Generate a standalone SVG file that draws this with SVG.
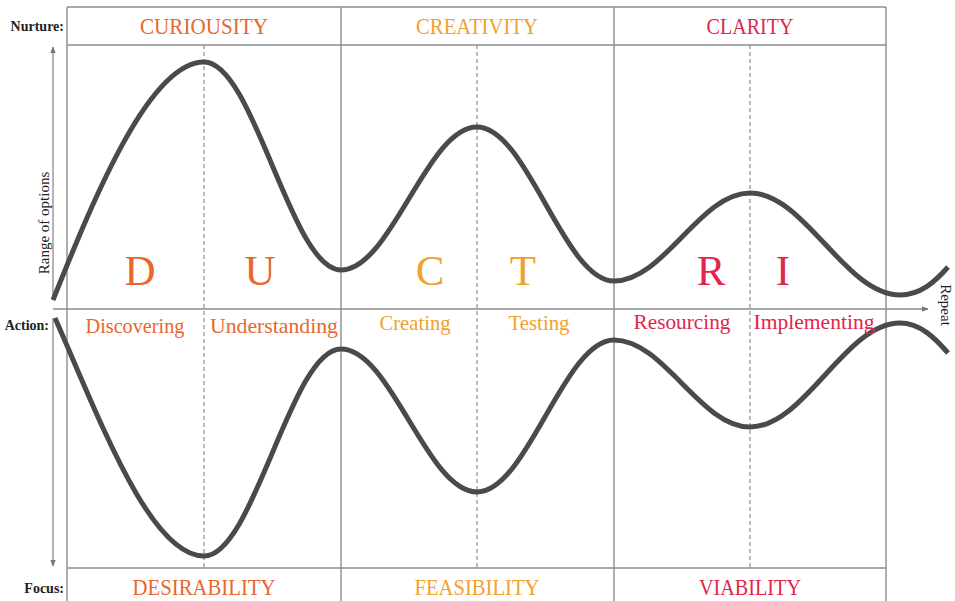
<svg xmlns="http://www.w3.org/2000/svg" width="955" height="601" viewBox="0 0 955 601">
  <defs>
    <marker id="arrow" viewBox="0 0 10 10" refX="9" refY="5" markerWidth="7" markerHeight="7" orient="auto-start-reverse" markerUnits="userSpaceOnUse">
      <path d="M0,1 L10,5 L0,9 z" fill="#777"/>
    </marker>
    <style>
      .grid { stroke: #8c8c8c; stroke-width: 1.4; fill: none; }
      .dash { stroke: #8c8c8c; stroke-width: 1.2; stroke-dasharray: 4 3; fill: none; }
      .axis { stroke: #8c8c8c; stroke-width: 1.3; fill: none; }
      .wave { stroke: #4a4a4a; stroke-width: 5; fill: none; stroke-linecap: butt; }
      .serif { font-family: "Liberation Serif", "DejaVu Serif", serif; }
      .head { font-size: 24px; text-anchor: middle; }
      .big { font-size: 43px; text-anchor: middle; }
      .sub { font-size: 21px; text-anchor: middle; }
      .side { font-size: 14px; fill: #222; font-weight: bold; }
      .o { fill: #E8672C; }
      .y { fill: #F2A12E; }
      .r { fill: #E2254C; }
    </style>
  </defs>

  <rect width="955" height="601" fill="#ffffff"/>

  <!-- frame and column grid -->
  <g id="frame">
    <line class="grid" x1="67" y1="7" x2="886" y2="7"/>
    <line class="grid" x1="67" y1="45" x2="886" y2="45"/>
    <line class="grid" x1="67" y1="568" x2="886" y2="568"/>
    <line class="grid" x1="67" y1="7" x2="67" y2="601"/>
    <line class="grid" x1="341" y1="7" x2="341" y2="601"/>
    <line class="grid" x1="614" y1="7" x2="614" y2="601"/>
    <line class="grid" x1="886" y1="7" x2="886" y2="601"/>
    <line class="dash" x1="204" y1="45" x2="204" y2="568"/>
    <line class="dash" x1="477" y1="45" x2="477" y2="568"/>
    <line class="dash" x1="750" y1="45" x2="750" y2="568"/>
  </g>

  <!-- axes -->
  <g id="axes">
    <line class="axis" x1="53" y1="300" x2="53" y2="47" marker-end="url(#arrow)"/>
    <line class="axis" x1="53" y1="318" x2="53" y2="566" marker-end="url(#arrow)"/>
    <line class="axis" x1="53" y1="309" x2="928" y2="309" marker-end="url(#arrow)"/>
  </g>

  <!-- diverging / converging waves -->
  <g id="connectors">
    <path class="wave" d="M53,300 C95,195 150,62 204,62 C254,62 291,270 341,270 C391,270 427,127 477,127 C527,127 564,281 614,281 C664,281 700,193 750,193 C805,193 845,295 900,295 C920,295 935,282 948,267"/>
    <path class="wave" d="M55,318 C100,420 150,556 204,556 C254,556 291,349 341,349 C391,349 427,492 477,492 C527,492 564,340 614,340 C664,340 700,427 750,427 C805,427 845,323 900,323 C920,323 935,338 948,353"/>
  </g>

  <!-- side labels -->
  <g id="side-labels" class="serif">
    <text class="side" x="64" y="31" text-anchor="end">Nurture:</text>
    <text class="side" x="49" y="330" text-anchor="end">Action:</text>
    <text class="side" x="64" y="593" text-anchor="end">Focus:</text>
    <text x="49" y="223" font-size="15" fill="#222" text-anchor="middle" transform="rotate(-90 49 223)">Range of options</text>
    <text x="941" y="305" font-size="15" fill="#222" text-anchor="middle" transform="rotate(90 941 305)">Repeat</text>
  </g>

  <!-- phase: curiosity / desirability -->
  <g id="phase-curiosity" class="serif">
    <text class="head o" x="204" y="34" textLength="128" lengthAdjust="spacingAndGlyphs">CURIOUSITY</text>
    <text class="big o" x="140" y="285">D</text>
    <text class="big o" x="260" y="285">U</text>
    <text class="sub o" x="135" y="333" textLength="99" lengthAdjust="spacingAndGlyphs">Discovering</text>
    <text class="sub o" x="274" y="333" textLength="128" lengthAdjust="spacingAndGlyphs">Understanding</text>
    <text class="head o" x="204" y="595" textLength="143" lengthAdjust="spacingAndGlyphs">DESIRABILITY</text>
  </g>

  <!-- phase: creativity / feasibility -->
  <g id="phase-creativity" class="serif">
    <text class="head y" x="477" y="34" textLength="122" lengthAdjust="spacingAndGlyphs">CREATIVITY</text>
    <text class="big y" x="430" y="285">C</text>
    <text class="big y" x="523" y="285">T</text>
    <text class="sub y" x="415" y="330" textLength="71" lengthAdjust="spacingAndGlyphs">Creating</text>
    <text class="sub y" x="539" y="330" textLength="61" lengthAdjust="spacingAndGlyphs">Testing</text>
    <text class="head y" x="477" y="595" textLength="125" lengthAdjust="spacingAndGlyphs">FEASIBILITY</text>
  </g>

  <!-- phase: clarity / viability -->
  <g id="phase-clarity" class="serif">
    <text class="head r" x="750" y="34" textLength="87" lengthAdjust="spacingAndGlyphs">CLARITY</text>
    <text class="big r" x="711" y="285">R</text>
    <text class="big r" x="783" y="285">I</text>
    <text class="sub r" x="682" y="329" textLength="97" lengthAdjust="spacingAndGlyphs">Resourcing</text>
    <text class="sub r" x="814" y="329" textLength="121" lengthAdjust="spacingAndGlyphs">Implementing</text>
    <text class="head r" x="750" y="595" textLength="102" lengthAdjust="spacingAndGlyphs">VIABILITY</text>
  </g>
</svg>
